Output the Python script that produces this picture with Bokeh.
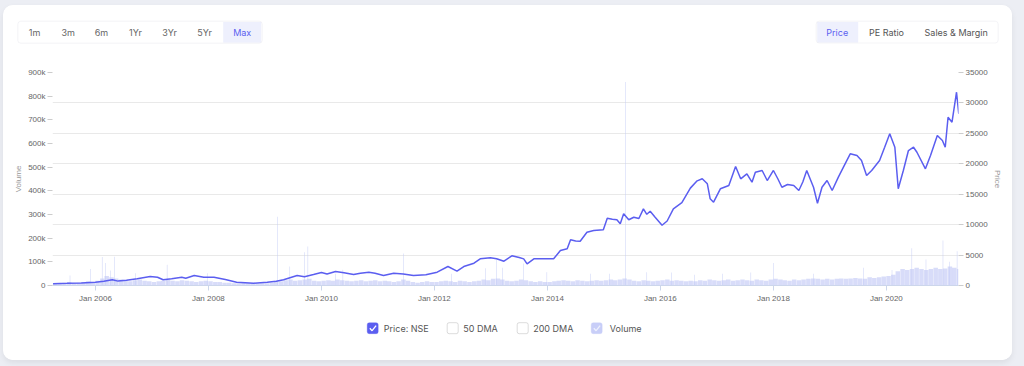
import re
from datetime import datetime
from bokeh.plotting import figure
from bokeh.models import (Range1d, LinearAxis, FixedTicker, NumeralTickFormatter,
                          DatetimeTickFormatter, Grid, BoxAnnotation)
from bokeh.layouts import column
from bokeh.embed import file_html
from bokeh.resources import INLINE
from bokeh.core.properties import value

# ---------------- data ----------------
price_year = [2005.25, 2005.5, 2005.75, 2006.0, 2006.15, 2006.3, 2006.4, 2006.55, 2006.74, 2006.97,
              2007.1, 2007.2, 2007.35, 2007.53, 2007.6, 2007.75, 2007.92, 2008.1, 2008.3, 2008.5,
              2008.8, 2009.04, 2009.2, 2009.33, 2009.57, 2009.7, 2009.86, 2010.0, 2010.1, 2010.25,
              2010.4, 2010.57, 2010.69, 2010.84, 2010.95, 2011.1, 2011.28, 2011.45, 2011.63, 2011.85,
              2012.05, 2012.24, 2012.4, 2012.52, 2012.7, 2012.81, 2012.99, 2013.1, 2013.23, 2013.37,
              2013.5, 2013.58, 2013.64, 2013.76, 2013.95, 2014.11, 2014.23, 2014.35, 2014.41, 2014.5,
              2014.58, 2014.7, 2014.82, 2014.99, 2015.06, 2015.15, 2015.23, 2015.29, 2015.35, 2015.44,
              2015.53, 2015.62, 2015.70, 2015.76, 2015.82, 2015.9, 2016.03, 2016.12, 2016.23, 2016.38,
              2016.53, 2016.65, 2016.74, 2016.83, 2016.88, 2016.94, 2017.06, 2017.21, 2017.33, 2017.42,
              2017.53, 2017.62, 2017.68, 2017.80, 2017.89, 2018.0, 2018.08, 2018.15, 2018.25, 2018.36,
              2018.45, 2018.52, 2018.59, 2018.71, 2018.78, 2018.86, 2018.95, 2019.04, 2019.15, 2019.24,
              2019.36, 2019.48, 2019.56, 2019.65, 2019.74, 2019.88, 2019.97, 2020.06, 2020.15, 2020.21,
              2020.30, 2020.39, 2020.48, 2020.54, 2020.69, 2020.78, 2020.90, 2020.99, 2021.04, 2021.09,
              2021.16, 2021.24, 2021.28]
price_value = [300, 350, 420, 540, 700, 940, 720, 850, 1100, 1480,
               1360, 940, 1100, 1360, 1200, 1640, 1360, 1360, 1000, 540,
               380, 540, 700, 940, 1640, 1450, 1800, 2140, 1900, 2300,
               2100, 1800, 2030, 2190, 2000, 1640, 2030, 1900, 1640, 1750,
               2190, 3120, 2360, 3120, 3670, 4380, 4550, 4400, 3990, 4880,
               4600, 4380, 3560, 4380, 4400, 4380, 5750, 6030, 7510, 7300,
               7280, 8760, 9040, 9150, 11060, 10900, 10800, 10140, 11780, 10800,
               11220, 11000, 12600, 11700, 12200, 11300, 9900, 10600, 12600, 13600,
               16000, 17200, 17530, 16710, 14250, 13690, 15890, 16430, 19550, 17530,
               18350, 16970, 18620, 18900, 17250, 18900, 17500, 16150, 16600, 16430,
               15610, 17000, 18900, 16150, 13520, 16150, 17250, 15610, 17800, 19440,
               21640, 21360, 20540, 18070, 18900, 20540, 22720, 24920, 22720, 15890,
               18900, 22180, 22720, 21900, 19170, 21360, 24650, 23830, 22720, 27650,
               26830, 31760, 28210]

# monthly typical volume (thousands), Apr 2005 .. Apr 2021
vol_2005 = [8, 10, 12, 15, 10, 12, 14, 18, 15]
vol_2006 = [20, 30, 40, 35, 30, 25, 20, 18, 22, 25, 20, 18]
vol_2007 = [15, 18, 20, 25, 20, 18, 22, 20, 18, 15, 18, 20]
vol_2008 = [18, 15, 15, 12, 12, 10, 10, 12, 10, 10, 8, 10]
vol_2009 = [10, 12, 20, 18, 22, 25, 20, 22, 25, 28, 20, 18]
vol_2010 = [20, 22, 20, 25, 22, 20, 18, 20, 22, 18, 20, 22]
vol_2011 = [18, 20, 18, 15, 18, 25, 20, 15, 12, 15, 18, 15]
vol_2012 = [15, 18, 20, 18, 15, 20, 18, 15, 18, 20, 25, 22]
vol_2013 = [28, 30, 25, 20, 18, 20, 25, 22, 18, 15, 18, 15]
vol_2014 = [15, 18, 20, 22, 20, 18, 22, 20, 18, 20, 22, 20]
vol_2015 = [22, 25, 22, 25, 30, 25, 20, 18, 22, 20, 18, 20]
vol_2016 = [22, 25, 20, 22, 20, 18, 20, 18, 22, 20, 25, 22]
vol_2017 = [20, 22, 25, 20, 22, 25, 22, 20, 25, 22, 20, 25]
vol_2018 = [28, 25, 22, 20, 25, 22, 25, 28, 30, 28, 25, 28]
vol_2019 = [25, 28, 30, 28, 30, 32, 30, 28, 35, 32, 35, 38]
vol_2020 = [40, 45, 60, 70, 65, 70, 75, 70, 65, 70, 75, 70]
vol_2021 = [72, 80, 75, 70]

# single-day volume spikes (thousands)
spike_year = [2005.55, 2005.91, 2006.12, 2006.18, 2006.27, 2006.34, 2006.71, 2007.27, 2007.98,
              2009.22, 2009.44, 2009.70, 2009.76, 2010.25, 2010.38, 2011.45, 2012.3, 2012.9,
              2013.1, 2013.2, 2013.58, 2013.99, 2014.76, 2015.1, 2015.38, 2015.76, 2016.2,
              2016.6, 2017.1, 2017.6, 2018.0, 2018.71, 2019.6, 2020.1, 2020.45, 2020.7,
              2021.0, 2021.12, 2021.25]
spike_value = [42, 70, 120, 95, 63, 122, 52, 88, 52,
               290, 80, 140, 165, 50, 67, 135, 50, 73,
               110, 75, 93, 56, 50, 50, 860, 56, 55,
               45, 50, 55, 95, 50, 75, 65, 157, 110,
               190, 100, 145]

vol_ticks = [0, 100000, 200000, 300000, 400000, 500000, 600000, 700000, 800000, 900000]
price_ticks = [0, 5000, 10000, 15000, 20000, 25000, 30000, 35000]
year_ticks = [2006, 2008, 2010, 2012, 2014, 2016, 2018, 2020]

range_buttons = ["1m", "3m", "6m", "1Yr", "3Yr", "5Yr", "Max"]
view_buttons = ["Price", "PE Ratio", "Sales & Margin"]
legend_items = ["Price: NSE", "50 DMA", "200 DMA", "Volume"]

# ---------------- helpers ----------------
def yr(d):
    y = int(d)
    s = datetime(y, 1, 1)
    e = datetime(y + 1, 1, 1)
    return s + (e - s) * (d - y)

volume_monthly = (vol_2005 + vol_2006 + vol_2007 + vol_2008 + vol_2009 + vol_2010 + vol_2011 +
                  vol_2012 + vol_2013 + vol_2014 + vol_2015 + vol_2016 + vol_2017 + vol_2018 +
                  vol_2019 + vol_2020 + vol_2021)
month_dates = []
for i in range(len(volume_monthly)):
    mm = 3 + i
    month_dates.append(datetime(2005 + mm // 12, mm % 12 + 1, 15))

INDIGO = "#5b5ef0"
VOL = "#c3caf6"
DAY = 86400000
W = 1009          # card width (page x 3 .. 1012)

# ---------------- main chart ----------------
p = figure(width=W, height=246, x_axis_type="datetime",
           x_range=Range1d(yr(2005.24), yr(2021.275)), y_range=Range1d(0, 900000),
           output_backend="svg", toolbar_location=None, frame_align=False,
           min_border_left=49, min_border_right=54, min_border_top=8, min_border_bottom=25)
p.extra_y_ranges = {"price": Range1d(0, 35000)}
p.outline_line_color = None
p.background_fill_color = "white"
p.border_fill_color = "white"

p.vbar(x=month_dates, top=[v * 1000 for v in volume_monthly], width=29 * DAY,
       fill_color=VOL, fill_alpha=0.65, line_color=None)
p.vbar(x=[yr(d) for d in spike_year], top=[v * 1000 for v in spike_value], width=3 * DAY,
       fill_color=VOL, fill_alpha=0.95, line_color=None)
p.line(x=[yr(d) for d in price_year], y=price_value, y_range_name="price",
       line_color=INDIGO, line_width=1.5)

ya = p.yaxis[0]
ya.ticker = FixedTicker(ticks=vol_ticks)
ya.formatter = NumeralTickFormatter(format="0a")
ya.axis_label = "Volume"

ra = LinearAxis(y_range_name="price", ticker=FixedTicker(ticks=price_ticks),
                formatter=NumeralTickFormatter(format="0"), axis_label="Price")
p.add_layout(ra, "right")

for ax in (ya, ra):
    ax.axis_line_color = None
    ax.major_tick_line_color = "#cccccc"
    ax.major_tick_out = 5
    ax.major_tick_in = 0
    ax.minor_tick_line_color = None
    ax.major_label_standoff = 2
    ax.axis_label_standoff = 2

xa = p.xaxis[0]
xa.ticker = FixedTicker(ticks=[datetime(y, 1, 1).timestamp() * 1000 for y in year_ticks])
fmt = "%b %Y"
xa.formatter = DatetimeTickFormatter(years=fmt, months=fmt, days=fmt, hours=fmt,
                                     minutes=fmt, seconds=fmt, milliseconds=fmt,
                                     microseconds=fmt, minsec=fmt, hourmin=fmt)
xa.axis_line_color = "#ccd6eb"
xa.major_tick_line_color = "#ccd6eb"
xa.major_tick_out = 5
xa.major_tick_in = 0
xa.minor_tick_line_color = None
xa.major_label_standoff = 3

for ax in (ya, ra, xa):
    ax.major_label_text_font = "Liberation Sans"
    ax.major_label_text_font_size = "8px"
    ax.major_label_text_color = "#666666"
    ax.axis_label_text_font = "Liberation Sans"
    ax.axis_label_text_font_size = "8px"
    ax.axis_label_text_color = "#999999"
    ax.axis_label_text_font_style = "normal"

p.xgrid.visible = False
p.ygrid.visible = False
p.add_layout(Grid(dimension=1, ticker=ra.ticker, y_range_name="price",
                  grid_line_color="#e9e9e9", grid_line_width=1))

# ---------------- top bar with buttons (coords: page px - card origin) ----------------
top = figure(width=W, height=59, x_range=Range1d(0, W), y_range=Range1d(59, 0),
             output_backend="svg", toolbar_location=None, min_border=0, frame_align=False,
             x_axis_location=None, y_axis_location=None)
top.grid.visible = False
top.outline_line_color = None
top.border_fill_color = "white"
top.background_fill_color = "white"

top.add_layout(BoxAnnotation(left=14.3, right=258.7, top=15.7, bottom=37.7, fill_alpha=0,
                             line_color="#d9dce4", line_width=1, border_radius=3))
top.add_layout(BoxAnnotation(left=812.7, right=994.7, top=15.7, bottom=37.5, fill_alpha=0,
                             line_color="#d9dce4", line_width=1, border_radius=3))
top.quad(left=[219.7, 813.7], right=[257.7, 854.7], top=[16.5, 16.5], bottom=[37, 37],
         fill_color="#eef0fd", line_color=None)

rb_x = [31, 64.7, 98, 132, 166, 201, 238.7]
rb_col = ["#666666"] * 6 + [INDIGO]
top.text(x=rb_x, y=[27] * 7, text=range_buttons, text_color=rb_col,
         text_font=value("Inter"), text_font_size="9px", text_align="center",
         text_baseline="middle")
vb_x = [833.7, 883, 952.7]
top.text(x=vb_x, y=[27] * 3, text=view_buttons, text_color=[INDIGO, "#555555", "#555555"],
         text_font=value("Inter"), text_font_size="9px", text_align="center",
         text_baseline="middle")

# ---------------- bottom legend ----------------
bot = figure(width=W, height=50, x_range=Range1d(0, W), y_range=Range1d(50, 0),
             output_backend="svg", toolbar_location=None, min_border=0, frame_align=False,
             x_axis_location=None, y_axis_location=None)
bot.grid.visible = False
bot.outline_line_color = None
bot.border_fill_color = "white"
bot.background_fill_color = "white"

cb_left = [363.7, 443.7, 513.7, 587.7]
cb_fill = [INDIGO, "white", "white", "#c8cef8"]
cb_line = [INDIGO, "#8a8a8a", "#8a8a8a", "#c8cef8"]
for l, f, lc in zip(cb_left, cb_fill, cb_line):
    bot.add_layout(BoxAnnotation(left=l, right=l + 11, top=12.2, bottom=23.2,
                                 fill_color=f, fill_alpha=1, line_color=lc,
                                 line_width=1, border_radius=2))
chk = bot.multi_line(xs=[[366.3, 368.6, 372.6], [590.3, 592.6, 596.6]],
                     ys=[[17.8, 20.2, 15.2], [17.8, 20.2, 15.2]],
                     line_color=["white", "#eef0fd"], line_width=1.3)
chk.level = "overlay"
bot.text(x=[380.3, 459.7, 529.7, 606.3], y=[17.7] * 4, text=legend_items,
         text_color="#555555", text_font=value("Inter"), text_font_size="9px",
         text_align="left", text_baseline="middle")

layout = column(top, p, bot, styles={"border-radius": "10px", "overflow": "hidden",
                                     "box-shadow": "0 3px 6px rgba(0,0,0,0.07)",
                                     "background-color": "white"})

html = file_html(layout, INLINE, title="chart")
extra_css = ("<style>html, body { background-color: #eceef4 !important; } "
             "body { padding: 5px 0 0 3px !important; margin: 0 !important; }</style>")
html = html.replace("</head>", extra_css + "\n</head>", 1)
open("out.html", "w").write(html)
